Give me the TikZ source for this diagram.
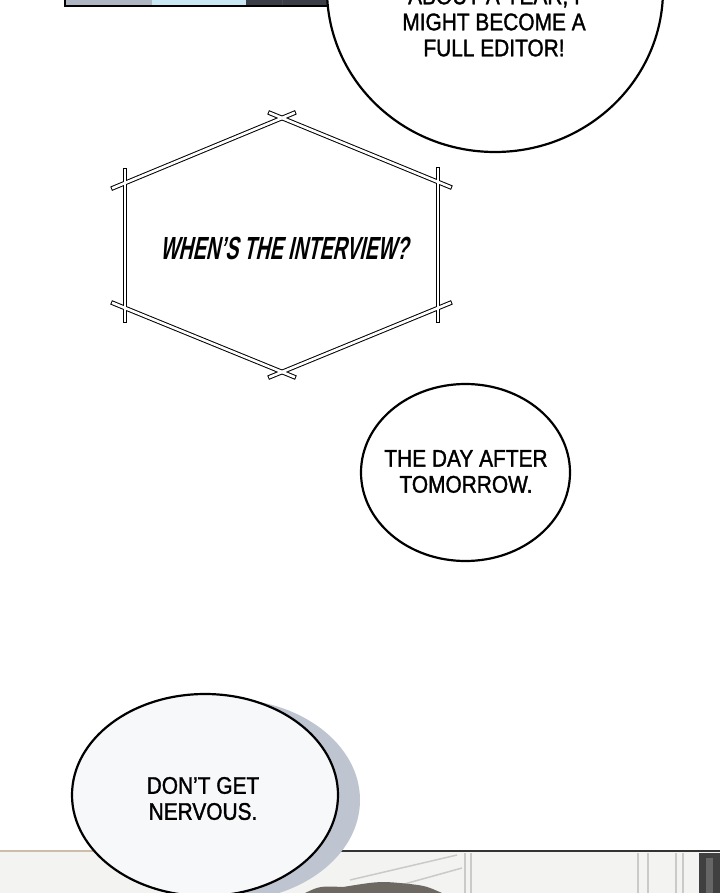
\documentclass[tikz,border=0pt]{standalone}
\usepackage{fontspec}
\usetikzlibrary{shapes.geometric}
\newfontfamily\comicfont[FakeStretch=0.87,FakeBold=1.4]{Liberation Sans}
\newfontfamily\hexfont[FakeStretch=0.61,FakeSlant=0.22]{Liberation Sans}
\definecolor{panelgrey}{HTML}{AEB6C3}
\definecolor{panelcyan}{HTML}{C9E8F5}
\definecolor{paneldark}{HTML}{3B3E47}
\definecolor{roomwhite}{HTML}{F3F3F1}
\definecolor{roomline}{HTML}{CACAC8}
\definecolor{hair}{HTML}{6E6862}
\definecolor{shadowblue}{HTML}{BFC4D1}
\definecolor{bubblewhite}{HTML}{F7F8FA}

\begin{document}
\begin{tikzpicture}[x=1pt,y=-1pt,
   bubble/.style={draw,ellipse,line width=2.2pt,fill=white,inner sep=0pt},
   speech/.style={font=\comicfont\fontsize{24}{26}\selectfont,align=center,inner sep=0pt},
   barline/.style={line width=4.6pt,shorten <=-15pt,shorten >=-15pt},
   barfill/.style={white,line width=2.6pt,shorten <=-14pt,shorten >=-14pt}]

\useasboundingbox[fill=white] (0,0) rectangle (720,893);

\fill[panelgrey] (64,-5) rectangle (152,6);
\fill[panelcyan] (152,-5) rectangle (246,6);
\fill[paneldark] (246,-5) rectangle (340,6);
\draw[black!70,line width=0.8pt] (282,-5) -- (282,6);
\draw[line width=2pt] (65,-5) |- (340,6);

\node[bubble,minimum width=336pt,minimum height=324pt] (editor) at (495,-10) {};
\node[speech] (editortext) at (494,22) {ABOUT A YEAR, I\\MIGHT BECOME A\\FULL EDITOR!};

\coordinate (top) at (282,118);
\coordinate (ul) at (125,183);
\coordinate (ur) at (438,182);
\coordinate (ll) at (125,308);
\coordinate (lr) at (438,308);
\coordinate (bot) at (282,372);
\foreach \a/\b in {ul/top,top/ur,ul/ll,ur/lr,ll/bot,bot/lr}
   \draw[barline] (\a) -- (\b);
\foreach \a/\b in {ul/top,top/ur,ul/ll,ur/lr,ll/bot,bot/lr}
   \draw[barfill] (\a) -- (\b);
\node[font=\hexfont\bfseries\fontsize{32}{34}\selectfont,inner sep=0pt] (interview) at (284,248) {WHEN’S THE INTERVIEW?};

\node[bubble,minimum width=209pt,minimum height=177pt] (day) at (465.5,472.5) {};
\node[speech] (daytext) at (466,471.5) {THE DAY AFTER\\TOMORROW.};

\fill[roomwhite] (0,851) rectangle (720,893);
\foreach \x in {465,471,638,648,676,683}
   \draw[roomline,line width=1.5pt] (\x,853) -- (\x,893);
\draw[roomline,line width=1.5pt] (350,880) -- (457,855);
\draw[roomline,line width=1.5pt] (372,893) -- (462,868);
\fill[black!75] (699,853) rectangle (720,893);
\fill[black!60] (706,858) rectangle (713,893);
\draw[line width=2pt,color=black!30!brown!40] (0,851) -- (300,851);
\draw[line width=2pt,color=black!80] (300,851) -- (720,851);
\fill[hair] (305,893) .. controls (320,886) .. (343,887) .. controls (380,881) .. (410,884) .. controls (426,886) .. (442,893) -- cycle;

\node[ellipse,fill=shadowblue,inner sep=0pt,minimum width=266pt,minimum height=202pt] (shadow) at (227,800) {};
\node[bubble,fill=bubblewhite,minimum width=266pt,minimum height=202pt] (nervous) at (205,795) {};
\node[speech] (nervoustext) at (203,798.5) {DON’T GET\\NERVOUS.};

\end{tikzpicture}
\end{document}
